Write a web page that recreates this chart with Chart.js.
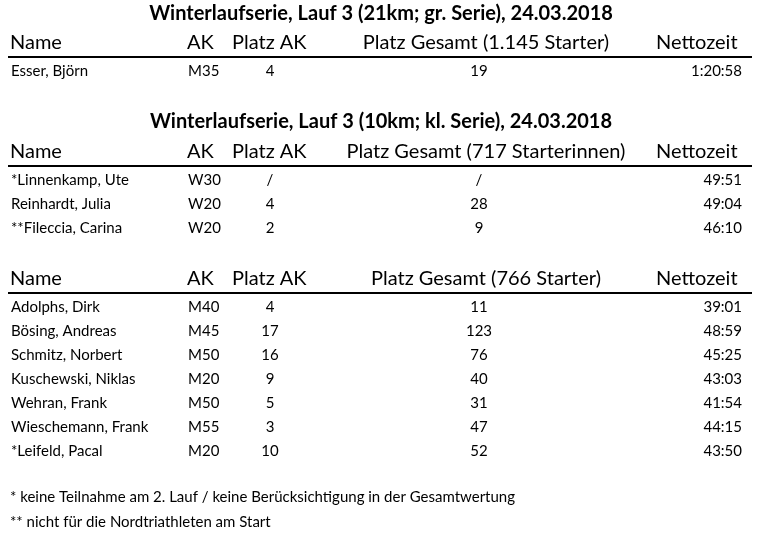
<!DOCTYPE html>
<html>
<head>
<meta charset="utf-8">
<script src="https://cdn.jsdelivr.net/npm/chart.js@4"></script>
<style>
  html, body { margin: 0; padding: 0; background: #fff; }
  #wrap { width: 768px; height: 539px; }
</style>
</head>
<body>
<div id="wrap"><canvas id="tableChart"></canvas></div>
<script>
// Table content
const titles = [
  "Winterlaufserie, Lauf 3 (21km; gr. Serie), 24.03.2018",
  "Winterlaufserie, Lauf 3 (10km; kl. Serie), 24.03.2018"
];
const headerGesamt = [
  "Platz Gesamt (1.145 Starter)",
  "Platz Gesamt (717 Starterinnen)",
  "Platz Gesamt (766 Starter)"
];
const namesA = ["Esser, Björn"];
const akA = ["M35"];
const platzAkA = ["4"];
const gesamtA = ["19"];
const zeitA = ["1:20:58"];

const namesB = ["*Linnenkamp, Ute", "Reinhardt, Julia", "**Fileccia, Carina"];
const akB = ["W30", "W20", "W20"];
const platzAkB = ["/", "4", "2"];
const gesamtB = ["/", "28", "9"];
const zeitB = ["49:51", "49:04", "46:10"];

const namesC = ["Adolphs, Dirk", "Bösing, Andreas", "Schmitz, Norbert", "Kuschewski, Niklas",
                "Wehran, Frank", "Wieschemann, Frank", "*Leifeld, Pacal"];
const akC = ["M40", "M45", "M50", "M20", "M50", "M55", "M20"];
const platzAkC = ["4", "17", "16", "9", "5", "3", "10"];
const gesamtC = ["11", "123", "76", "40", "31", "47", "52"];
const zeitC = ["39:01", "48:59", "45:25", "43:03", "41:54", "44:15", "43:50"];

const footnotes = [
  "* keine Teilnahme am 2. Lauf / keine Berücksichtigung in der Gesamtwertung",
  "** nicht für die Nordtriathleten am Start"
];

const FONT = "Lato, 'Open Sans', sans-serif";

function drawBlock(ctx, headerY, gesamtLabel, names, ak, platz, gesamt, zeit) {
  ctx.fillStyle = "#000";
  ctx.textBaseline = "middle";
  ctx.font = "20px " + FONT;
  ctx.textAlign = "left";
  ctx.fillText("Name", 10, headerY);
  ctx.fillText("AK", 187, headerY);
  ctx.fillText("Platz AK", 232, headerY);
  ctx.fillText("Nettozeit", 656, headerY);
  ctx.textAlign = "center";
  ctx.fillText(gesamtLabel, 486, headerY);
  ctx.strokeStyle = "#000";
  ctx.lineWidth = 2;
  ctx.beginPath();
  ctx.moveTo(8, headerY + 14);
  ctx.lineTo(752, headerY + 14);
  ctx.stroke();
  ctx.font = "15px " + FONT;
  names.forEach((n, i) => {
    const y = headerY + 28 + i * 24;
    ctx.textAlign = "left";
    ctx.fillText(n, 11, y);
    ctx.fillText(ak[i], 188, y);
    ctx.textAlign = "center";
    ctx.fillText(platz[i], 270, y);
    ctx.fillText(gesamt[i], 479, y);
    ctx.textAlign = "right";
    ctx.fillText(zeit[i], 742, y);
  });
}

const tablePlugin = {
  id: "tableText",
  afterDraw(chart) {
    const ctx = chart.ctx;
    ctx.save();
    ctx.fillStyle = "#000";
    ctx.textBaseline = "middle";
    ctx.textAlign = "center";
    ctx.font = "bold 20px " + FONT;
    ctx.fillText(titles[0], 381, 14);
    ctx.fillText(titles[1], 381, 122);
    drawBlock(ctx, 43, headerGesamt[0], namesA, akA, platzAkA, gesamtA, zeitA);
    drawBlock(ctx, 152, headerGesamt[1], namesB, akB, platzAkB, gesamtB, zeitB);
    drawBlock(ctx, 279, headerGesamt[2], namesC, akC, platzAkC, gesamtC, zeitC);
    ctx.textAlign = "left";
    ctx.font = "15px " + FONT;
    ctx.fillText(footnotes[0], 10, 497);
    ctx.fillText(footnotes[1], 10, 522);
    ctx.restore();
  }
};

new Chart(document.getElementById("tableChart"), {
  type: "scatter",
  data: { datasets: [{ data: [] }] },
  options: {
    responsive: true,
    maintainAspectRatio: false,
    animation: false,
    events: [],
    plugins: { legend: { display: false }, tooltip: { enabled: false } },
    scales: { x: { display: false }, y: { display: false } }
  },
  plugins: [tablePlugin]
});
</script>
</body>
</html>
